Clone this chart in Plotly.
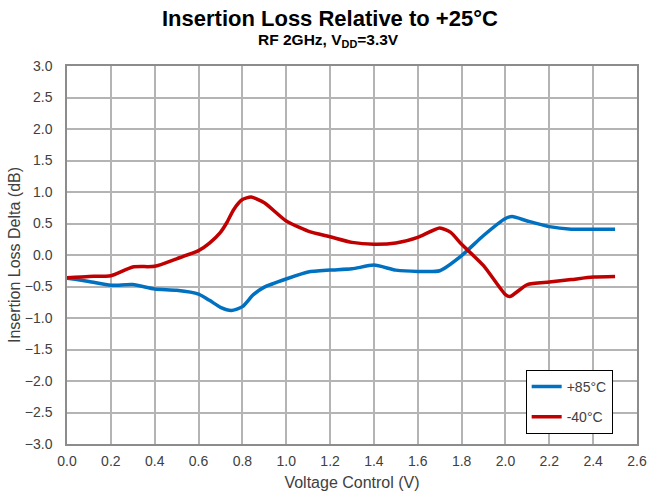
import plotly.graph_objects as go

# Data
x_hot = [0.0, 0.1, 0.2, 0.3, 0.4, 0.5, 0.6, 0.65, 0.7, 0.75, 0.8, 0.85, 0.9, 1.0, 1.1, 1.2, 1.3, 1.4, 1.5, 1.6, 1.7, 1.8, 1.9, 2.0, 2.03, 2.1, 2.2, 2.3, 2.4, 2.5]
y_hot = [-0.37, -0.42, -0.48, -0.47, -0.54, -0.56, -0.62, -0.72, -0.83, -0.88, -0.82, -0.63, -0.51, -0.38, -0.27, -0.24, -0.22, -0.16, -0.24, -0.26, -0.25, -0.01, 0.31, 0.58, 0.61, 0.54, 0.45, 0.41, 0.41, 0.41]

x_cold = [0.0, 0.1, 0.2, 0.3, 0.4, 0.5, 0.6, 0.65, 0.7, 0.73, 0.76, 0.8, 0.84, 0.9, 1.0, 1.1, 1.2, 1.3, 1.4, 1.5, 1.6, 1.7, 1.75, 1.8, 1.9, 2.0, 2.02, 2.1, 2.2, 2.3, 2.4, 2.5]
y_cold = [-0.36, -0.34, -0.33, -0.19, -0.18, -0.06, 0.07, 0.19, 0.36, 0.52, 0.72, 0.88, 0.92, 0.83, 0.54, 0.38, 0.29, 0.20, 0.17, 0.19, 0.28, 0.43, 0.36, 0.17, -0.17, -0.63, -0.66, -0.47, -0.43, -0.39, -0.35, -0.34]

x_ticks = [0.0, 0.2, 0.4, 0.6, 0.8, 1.0, 1.2, 1.4, 1.6, 1.8, 2.0, 2.2, 2.4, 2.6]
y_ticks = [-3.0, -2.5, -2.0, -1.5, -1.0, -0.5, 0.0, 0.5, 1.0, 1.5, 2.0, 2.5, 3.0]

FONT = "Liberation Sans, Arial, sans-serif"
TXT = "#404040"

fig = go.Figure()
fig.add_trace(go.Scatter(x=x_hot, y=y_hot, mode="lines", name="+85°C", legendgroup="hot",
                         line=dict(color="#0070C0", width=3.5, shape="spline", smoothing=0.6)))
fig.add_trace(go.Scatter(x=x_cold, y=y_cold, mode="lines", name="-40°C", legendgroup="cold",
                         line=dict(color="#C00000", width=3.5, shape="spline", smoothing=0.6)))

axis_common = dict(showgrid=True, gridcolor="#b4b4b4", gridwidth=1.5,
                   showline=True, linecolor="#8c8c8c", linewidth=1.5, mirror=True,
                   ticks="outside", tickcolor="rgba(0,0,0,0)",
                   tickfont=dict(family=FONT, size=14, color=TXT),
                   zeroline=False, tickformat=".1f", automargin=False)

fig.update_layout(
    width=648, height=495,
    margin=dict(l=67, r=11, t=66, b=51),
    paper_bgcolor="white", plot_bgcolor="white",
    font=dict(family=FONT, color=TXT),
    xaxis=dict(range=[0, 2.6], tickvals=x_ticks, ticklen=3,
               title=dict(text="Voltage Control (V)", font=dict(family=FONT, size=16, color=TXT), standoff=9),
               **axis_common),
    yaxis=dict(range=[-3.0, 3.0], tickvals=y_ticks, ticklen=10,
               title=dict(text="Insertion Loss Delta (dB)", font=dict(family=FONT, size=16, color=TXT), standoff=0),
               **axis_common),
    legend=dict(x=0.881, y=0.196, xanchor="center", yanchor="top",
                bgcolor="white", bordercolor="black", borderwidth=1,
                font=dict(family=FONT, size=14, color=TXT),
                itemwidth=30, tracegroupgap=9),
    showlegend=True,
    annotations=[
        dict(text="<b>Insertion Loss Relative to +25°C</b>", xref="paper", yref="paper",
             x=0.461, y=1.0, yshift=62, xanchor="center", yanchor="top", showarrow=False,
             font=dict(family=FONT, size=22, color="black")),
        dict(text="<b>RF 2GHz, V<sub>DD</sub>=3.3V</b>", xref="paper", yref="paper",
             x=0.458, y=1.0, yshift=37, xanchor="center", yanchor="top", showarrow=False,
             font=dict(family=FONT, size=15.5, color="black")),
    ],
)

fig.write_html("out.html",
               config={"displayModeBar": False},
               post_script="document.body.style.margin='0';document.body.style.overflow='hidden';")
